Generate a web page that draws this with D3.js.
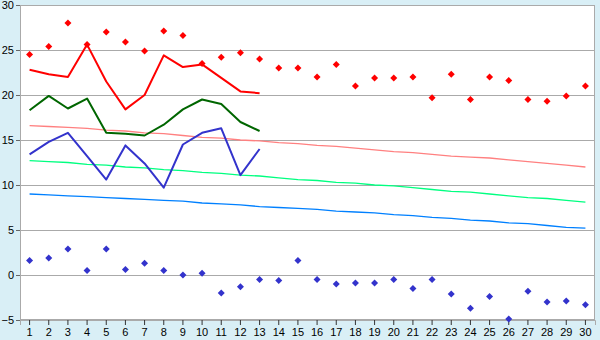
<!DOCTYPE html>
<html>
<head>
<meta charset="utf-8">
<script src="https://cdn.jsdelivr.net/npm/d3@7"></script>
<style>
  body { margin: 0; background: #d9eff6; }
  svg { display: block; }
  .tick text { font-family: "Liberation Sans", Arial, sans-serif; font-size: 11px; fill: #000; }
</style>
</head>
<body>
<svg id="chart" width="600" height="340"></svg>
<script>
const days = d3.range(1, 31)

// upper dots (red) and lower dots (blue)
const highDots = [24.5, 25.4, 28.0, 25.6, 27.0, 25.9, 24.9, 27.1, 26.6, 23.5,
  24.2, 24.7, 24.0, 23.0, 23.0, 22.0, 23.4, 21.0, 21.9, 21.9,
  22.0, 19.7, 22.3, 19.5, 22.0, 21.6, 19.5, 19.3, 19.9, 21.0]
const lowDots = [1.6, 1.9, 2.9, 0.5, 2.9, 0.6, 1.3, 0.5, 0.0, 0.2,
  -2.0, -1.3, -0.5, -0.6, 1.6, -0.5, -1.0, -0.9, -0.9, -0.5,
  -1.5, -0.5, -2.1, -3.7, -2.4, -4.9, -1.8, -3.0, -2.9, -3.3]

// measured lines (first 13 days)
const redLine = [22.8, 22.3, 22.0, 25.6, 21.5, 18.4, 20.0, 24.4, 23.1, 23.4, 21.9, 20.4, 20.2]
const greenLine = [18.3, 19.9, 18.5, 19.6, 15.8, 15.7, 15.5, 16.7, 18.4, 19.5, 19.0, 17.0, 16.0]
const blueLine = [13.4, 14.8, 15.8, 13.2, 10.6, 14.4, 12.4, 9.7, 14.5, 15.8, 16.3, 11.1, 14.0]

// normals
const pinkNormal = [16.6, 16.5, 16.4, 16.3, 16.1, 16.0, 15.8, 15.7, 15.5, 15.3,
  15.2, 15.0, 14.9, 14.7, 14.6, 14.4, 14.3, 14.1, 13.9, 13.7,
  13.6, 13.4, 13.2, 13.1, 13.0, 12.8, 12.6, 12.4, 12.2, 12.0]
const mintNormal = [12.7, 12.6, 12.5, 12.3, 12.2, 12.0, 11.9, 11.7, 11.6, 11.4,
  11.3, 11.1, 11.0, 10.8, 10.6, 10.5, 10.3, 10.2, 10.0, 9.9,
  9.7, 9.5, 9.3, 9.2, 9.0, 8.8, 8.6, 8.5, 8.3, 8.1]
const azureNormal = [9.0, 8.9, 8.8, 8.7, 8.6, 8.5, 8.4, 8.3, 8.2, 8.0,
  7.9, 7.8, 7.6, 7.5, 7.4, 7.3, 7.1, 7.0, 6.9, 6.7,
  6.6, 6.4, 6.3, 6.1, 6.0, 5.8, 5.7, 5.5, 5.3, 5.2]

const yTicks = [-5, 0, 5, 10, 15, 20, 25, 30]

const margin = { top: 5, right: 5, bottom: 20, left: 20 }
const width = 600 - margin.left - margin.right
const height = 340 - margin.top - margin.bottom

const svg = d3.select('#chart')
const g = svg.append('g').attr('transform', `translate(${margin.left},${margin.top})`)

const x = d3.scaleBand().domain(days).range([0, width])
const y = d3.scaleLinear().domain([-5, 30]).range([height, 0])
const cx = (d) => x(d) + x.bandwidth() / 2

g.append('rect')
  .attr('width', width).attr('height', height)
  .attr('fill', '#fff')

g.append('g')
  .selectAll('line')
  .data(yTicks)
  .join('line')
  .attr('x1', 0).attr('x2', width)
  .attr('y1', (d) => Math.round(y(d)) + 0.5)
  .attr('y2', (d) => Math.round(y(d)) + 0.5)
  .attr('stroke', '#aaa')

g.append('rect')
  .attr('x', 0.5).attr('y', 0.5)
  .attr('width', width - 1).attr('height', height - 1)
  .attr('fill', 'none').attr('stroke', '#aaa')

const yAxis = g.append('g')
  .call(d3.axisLeft(y).tickValues(yTicks).tickSize(4).tickPadding(2))
yAxis.select('.domain').attr('stroke', '#aaa')
yAxis.selectAll('.tick line').attr('stroke', '#666')

const xAxis = g.append('g')
  .attr('transform', `translate(0,${height})`)
  .call(d3.axisBottom(x).tickSize(5).tickPadding(3))
xAxis.select('.domain').attr('stroke', '#aaa')
xAxis.selectAll('.tick line').attr('stroke', '#333')

const line = d3.line()
  .x((d, i) => cx(days[i]))
  .y((d) => y(d))

const normals = [
  { data: pinkNormal, color: '#ff8080' },
  { data: mintNormal, color: '#00ff80' },
  { data: azureNormal, color: '#0080ff' },
]
normals.forEach((s) => {
  g.append('path')
    .attr('d', line(s.data))
    .attr('fill', 'none')
    .attr('stroke', s.color)
    .attr('stroke-width', 1.3)
})

const measured = [
  { data: redLine, color: '#ff0000' },
  { data: greenLine, color: '#006600' },
  { data: blueLine, color: '#3333cc' },
]
measured.forEach((s) => {
  g.append('path')
    .attr('d', line(s.data))
    .attr('fill', 'none')
    .attr('stroke', s.color)
    .attr('stroke-width', 2)
    .attr('stroke-linejoin', 'round')
})

const diamond = {
  draw(ctx, size) {
    const r = Math.sqrt(size) / 2
    ctx.moveTo(0, -r)
    ctx.lineTo(r, 0)
    ctx.lineTo(0, r)
    ctx.lineTo(-r, 0)
    ctx.closePath()
  },
}
const sym = d3.symbol().type(diamond).size(49)

const dotSets = [
  { data: highDots, color: '#ff0000' },
  { data: lowDots, color: '#3333cc' },
]
dotSets.forEach((s) => {
  g.append('g')
    .selectAll('path')
    .data(s.data)
    .join('path')
    .attr('transform', (d, i) => `translate(${cx(days[i])},${y(d)})`)
    .attr('d', sym)
    .attr('fill', s.color)
})
</script>
</body>
</html>
